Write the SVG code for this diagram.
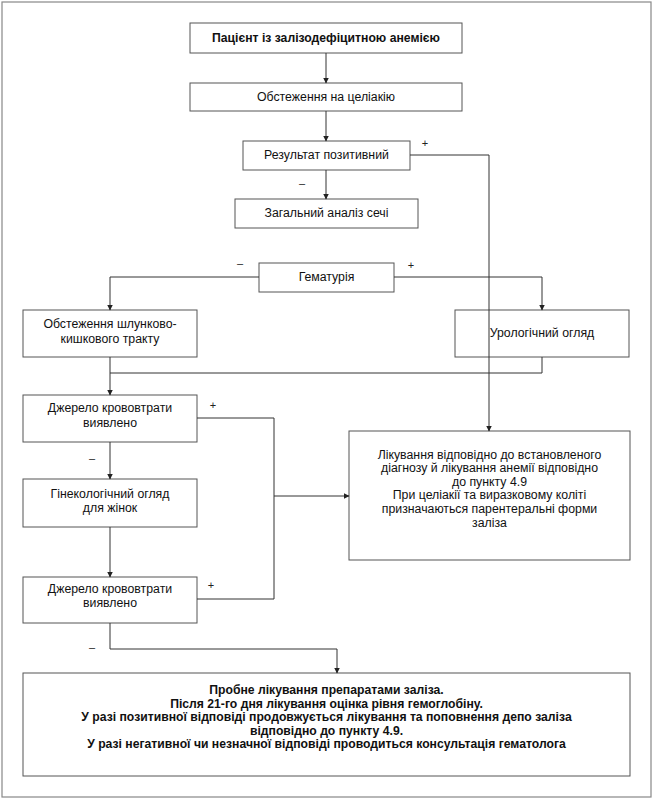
<svg xmlns="http://www.w3.org/2000/svg" width="653" height="800" viewBox="0 0 653 800">
<style>
.box{fill:#fff;stroke:#555;stroke-width:1}
.t{font-family:"Liberation Sans",Arial,sans-serif;font-size:12.3px;fill:#111;text-anchor:middle}
.b{font-weight:bold;font-size:12.2px}
.c{fill:none;stroke:#333;stroke-width:1}
.s{font-family:"Liberation Sans",Arial,sans-serif;font-size:11px;fill:#222;text-anchor:middle}
</style>
<defs>
<marker id="ar" markerWidth="6" markerHeight="7" refX="5.5" refY="3.5" orient="auto" markerUnits="userSpaceOnUse">
<path d="M0,0.5 L6,3.5 L0,6.5 Z" fill="#222"/>
</marker>
</defs>
<rect x="2" y="2" width="649" height="795" fill="#fff" stroke="#888" stroke-width="1.2"/>
<g id="n1"><rect class="box" x="190" y="23" width="272" height="30"/><text class="t b" x="326" y="42">Пацієнт із залізодефіцитною анемією</text></g>
<g id="n2"><rect class="box" x="190" y="83" width="272" height="28"/><text class="t" x="326" y="101">Обстеження на целіакію</text></g>
<g id="n3"><rect class="box" x="243" y="141" width="167" height="29"/><text class="t" x="326.5" y="159">Результат позитивний</text></g>
<g id="n4"><rect class="box" x="235" y="199" width="183" height="29"/><text class="t" x="326.5" y="217">Загальний аналіз сечі</text></g>
<g id="n5"><rect class="box" x="259" y="263" width="135" height="29"/><text class="t" x="326.5" y="281">Гематурія</text></g>
<g id="n6"><rect class="box" x="23" y="310" width="174" height="47"/><text class="t" x="110" y="328">Обстеження шлунково-</text><text class="t" x="110" y="343">кишкового тракту</text></g>
<g id="n7"><rect class="box" x="455" y="310" width="174" height="47"/><text class="t" x="542" y="337">Урологічний огляд</text></g>
<g id="n8"><rect class="box" x="23" y="395" width="174" height="47"/><text class="t" x="110" y="412">Джерело крововтрати</text><text class="t" x="110" y="427">виявлено</text></g>
<g id="n9"><rect class="box" x="23" y="479" width="174" height="48"/><text class="t" x="110" y="498">Гінекологічний огляд</text><text class="t" x="110" y="512">для жінок</text></g>
<g id="n10"><rect class="box" x="23" y="577" width="174" height="46"/><text class="t" x="110" y="593">Джерело крововтрати</text><text class="t" x="110" y="607">виявлено</text></g>
<g id="n11"><rect class="box" x="349" y="431" width="281" height="129"/>
<text class="t" x="489.5" y="458.5">Лікування відповідно до встановленого</text>
<text class="t" x="489.5" y="472">діагнозу й лікування анемії відповідно</text>
<text class="t" x="489.5" y="485.5">до пункту 4.9</text>
<text class="t" x="489.5" y="499">При целіакії та виразковому коліті</text>
<text class="t" x="489.5" y="513">призначаються парентеральні форми</text>
<text class="t" x="489.5" y="527">заліза</text></g>
<g id="n12"><rect class="box" x="23" y="673" width="607" height="103"/>
<text class="t b" x="326.5" y="694">Пробне лікування препаратами заліза.</text>
<text class="t b" x="326.5" y="707.5">Після 21-го дня лікування оцінка рівня гемоглобіну.</text>
<text class="t b" x="326.5" y="721">У разі позитивної відповіді продовжується лікування та поповнення депо заліза</text>
<text class="t b" x="326.5" y="734.5">відповідно до пункту 4.9.</text>
<text class="t b" x="326.5" y="748">У разі негативної чи незначної відповіді проводиться консультація гематолога</text></g>
<g id="connectors">
<path class="c" d="M326,53 V83" marker-end="url(#ar)"/>
<path class="c" d="M326,111 V141" marker-end="url(#ar)"/>
<path class="c" d="M326,170 V199" marker-end="url(#ar)"/>
<path class="c" d="M410,155 H489 V431" marker-end="url(#ar)"/>
<path class="c" d="M259,277 H110 V310" marker-end="url(#ar)"/>
<path class="c" d="M394,277 H542 V310" marker-end="url(#ar)"/>
<path class="c" d="M542,357 V373 H110"/>
<path class="c" d="M110,357 V395" marker-end="url(#ar)"/>
<path class="c" d="M110,442 V479" marker-end="url(#ar)"/>
<path class="c" d="M110,527 V577" marker-end="url(#ar)"/>
<path class="c" d="M197,418 H274 V599 H197"/>
<path class="c" d="M274,496 H349" marker-end="url(#ar)"/>
<path class="c" d="M110,623 V649 H337 V673" marker-end="url(#ar)"/>
<text class="s" x="425" y="147">+</text>
<text class="s" x="302" y="187">–</text>
<text class="s" x="240" y="267">–</text>
<text class="s" x="411" y="269">+</text>
<text class="s" x="213" y="409">+</text>
<text class="s" x="92" y="462">–</text>
<text class="s" x="211" y="589">+</text>
<text class="s" x="92" y="651">–</text>
</g>
</svg>
